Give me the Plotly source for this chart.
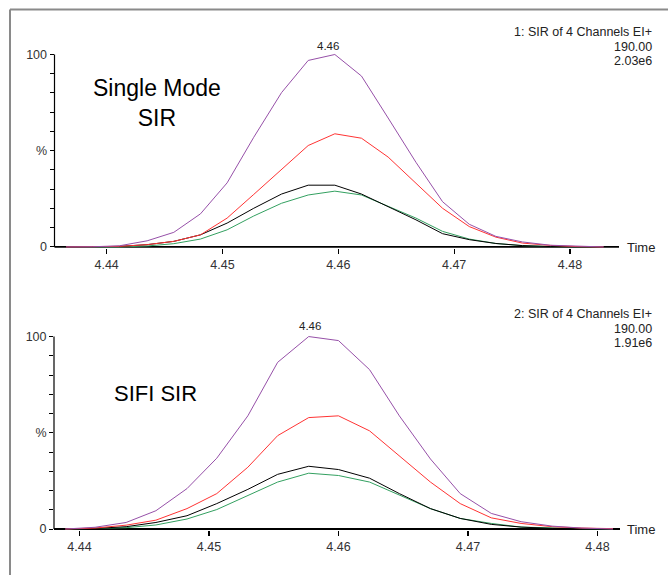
import plotly.graph_objects as go

# ---------------- data ----------------
top_time = [4.4365, 4.4388, 4.4411, 4.4435, 4.4458, 4.4481, 4.4504, 4.4527, 4.4551, 4.4574,
            4.4597, 4.4620, 4.4643, 4.4667, 4.4690, 4.4713, 4.4736, 4.4759, 4.4783, 4.4806, 4.4829]
top_purple = [0, 0.1, 0.6, 3.2, 7.6, 17.2, 33.3, 57.0, 80.2, 96.9, 100, 88.8, 67.0, 44.0, 23.5, 11.8, 5.5, 2.6, 0.9, 0.4, 0]
top_red = [0, 0.1, 0.3, 1.2, 2.9, 6.3, 15.0, 27.3, 40.4, 52.7, 58.8, 56.5, 46.7, 33.0, 20.1, 10.6, 5.1, 2.0, 0.8, 0.2, 0]
top_black = [0, 0, 0.3, 1.2, 2.9, 6.3, 12.4, 20.1, 27.5, 32.1, 32.1, 27.5, 21.0, 14.1, 6.9, 3.8, 1.8, 0.7, 0.2, 0, 0]
top_green = [0, 0, 0, 0.5, 1.7, 4.1, 8.9, 16.1, 22.7, 27.0, 29.0, 27.0, 21.0, 15.0, 8.1, 4.1, 1.8, 0.7, 0.2, 0, 0]

bot_time = [4.4389, 4.4412, 4.4436, 4.4459, 4.4483, 4.4506, 4.4530, 4.4553, 4.4577, 4.4600,
            4.4624, 4.4647, 4.4671, 4.4694, 4.4718, 4.4741, 4.4765, 4.4788, 4.4812]
bot_purple = [0, 0.9, 3.4, 9.5, 21.0, 36.8, 58.8, 86.6, 100, 97.9, 82.8, 58.8, 36.4, 18.4, 8.1, 3.8, 1.5, 0.5, 0]
bot_red = [0, 0.5, 2.0, 4.6, 10.6, 18.4, 32.1, 48.5, 57.9, 58.8, 51.0, 38.0, 24.4, 13.2, 5.8, 2.9, 1.2, 0.5, 0.2]
bot_black = [0, 0.3, 1.2, 3.4, 6.9, 13.2, 20.6, 28.4, 32.6, 30.9, 26.4, 18.4, 10.6, 5.5, 2.4, 1.0, 0.3, 0, 0]
bot_green = [0, 0.2, 0.7, 2.1, 5.2, 10.1, 17.5, 24.4, 29.0, 27.8, 24.4, 17.5, 10.6, 5.5, 2.9, 1.0, 0.5, 0.2, 0]

x_tick_vals = [4.44, 4.45, 4.46, 4.47, 4.48]
x_tick_text = ["4.44", "4.45", "4.46", "4.47", "4.48"]
y_tick_vals = [0, 10, 20, 30, 40, 50, 60, 70, 80, 90, 100]
y_tick_text = ["0", "", "", "", "", "%", "", "", "", "", "100"]

top_header = ["1: SIR of 4 Channels EI+", "190.00", "2.03e6"]
bot_header = ["2: SIR of 4 Channels EI+", "190.00", "1.91e6"]
top_peak_label = "4.46"
bot_peak_label = "4.46"
top_title = "Single Mode<br>SIR"
bot_title = "SIFI SIR"

# ---------------- layout helpers ----------------
W, H = 668, 581
def fx(p):
    return p / W
def fy(p):
    return 1 - p / H

FONT = "Liberation Sans, Arial, sans-serif"
colors = {"green": "#33A060", "black": "#000000", "red": "#FF3333", "purple": "#9650A8"}

fig = go.Figure()

def add_series(t, vals, color, xa, ya):
    fig.add_trace(go.Scatter(x=t, y=vals, mode="lines", line=dict(color=color, width=1),
                             xaxis=xa, yaxis=ya, showlegend=False, hoverinfo="skip"))

for t, g, b, r, p, xa, ya in [
    (top_time, top_green, top_black, top_red, top_purple, "x", "y"),
    (bot_time, bot_green, bot_black, bot_red, bot_purple, "x2", "y2"),
]:
    add_series(t, g, colors["green"], xa, ya)
    add_series(t, b, colors["black"], xa, ya)
    add_series(t, r, colors["red"], xa, ya)
    add_series(t, p, colors["purple"], xa, ya)

tickfont = dict(family=FONT, size=12.5, color="#333333")

def xax(domain, rng, anchor):
    return dict(domain=domain, range=rng, anchor=anchor, showgrid=False, zeroline=False,
                showline=False, ticks="outside", ticklen=5, tickwidth=1.2, tickcolor="#000",
                tickvals=x_tick_vals, ticktext=x_tick_text, tickfont=tickfont, fixedrange=True)

def yax(domain, anchor):
    return dict(domain=domain, range=[-0.6, 108], anchor=anchor, showgrid=False, zeroline=False,
                showline=False, ticks="outside", ticklen=4, tickwidth=1, tickcolor="#000",
                tickvals=y_tick_vals, ticktext=y_tick_text, tickfont=tickfont, fixedrange=True)

fig.update_layout(
    width=W, height=H,
    margin=dict(l=0, r=0, t=0, b=0),
    paper_bgcolor="white", plot_bgcolor="white",
    xaxis=xax([fx(54.5), fx(619)], [4.4355, 4.48423], "y"),
    yaxis=yax([fy(250.7), fy(39.5)], "x"),
    xaxis2=xax([fx(54), fx(620)], [4.43803, 4.48174], "y2"),
    yaxis2=yax([fy(535.7), fy(324.5)], "x2"),
)

shapes = []
# outer frame (top and left)
shapes.append(dict(type="line", xref="paper", yref="paper", x0=fx(10), x1=1.0, y0=fy(9.5), y1=fy(9.5),
                   line=dict(color="#8a8a8a", width=2)))
shapes.append(dict(type="line", xref="paper", yref="paper", x0=fx(10), x1=fx(10), y0=fy(9.5), y1=0,
                   line=dict(color="#8a8a8a", width=2)))
for xa, ya in [("x", "y"), ("x2", "y2")]:
    shapes.append(dict(type="line", xref=xa + " domain", yref=ya, x0=0, x1=1, y0=0, y1=0,
                       line=dict(color="#000", width=1.8), layer="below"))
    shapes.append(dict(type="line", xref=xa + " domain", yref=ya, x0=0, x1=0, y0=0, y1=100,
                       line=dict(color="#000", width=1.2), layer="below"))
fig.update_layout(shapes=shapes)

ann = []
smallfont = dict(family=FONT, size=12.5, color="#222222")
for lines, ys in [(top_header, [32, 47, 62]), (bot_header, [317, 332, 347])]:
    for txt, yy in zip(lines, ys):
        ann.append(dict(text=txt, xref="paper", yref="paper", x=fx(654), y=fy(yy),
                        xanchor="right", yanchor="middle", showarrow=False, font=smallfont))
# peak labels
ann.append(dict(text=top_peak_label, xref="paper", yref="paper", x=fx(328), y=fy(46.5),
                xanchor="center", yanchor="middle", showarrow=False, font=dict(family=FONT, size=11.5, color="#222")))
ann.append(dict(text=bot_peak_label, xref="paper", yref="paper", x=fx(310), y=fy(329),
                xanchor="center", yanchor="middle", showarrow=False, font=dict(family=FONT, size=11.5, color="#222")))
# Time labels
for yy in [250.5, 535.5]:
    ann.append(dict(text="Time", xref="paper", yref="paper", x=fx(625), y=fy(yy),
                    xanchor="left", yanchor="middle", showarrow=False, font=dict(family=FONT, size=13, color="#222")))
# panel titles
ann.append(dict(text=top_title, xref="paper", yref="paper", x=fx(157), y=fy(104),
                xanchor="center", yanchor="middle", showarrow=False, align="center",
                font=dict(family=FONT, size=23, color="#000")))
ann.append(dict(text=bot_title, xref="paper", yref="paper", x=fx(155), y=fy(398),
                xanchor="center", yanchor="middle", showarrow=False,
                font=dict(family=FONT, size=22, color="#000")))
fig.update_layout(annotations=ann)

fig.write_html("out.html", config={"displayModeBar": False, "staticPlot": True},
               post_script="document.body.style.margin='0';document.body.style.overflow='hidden';")
